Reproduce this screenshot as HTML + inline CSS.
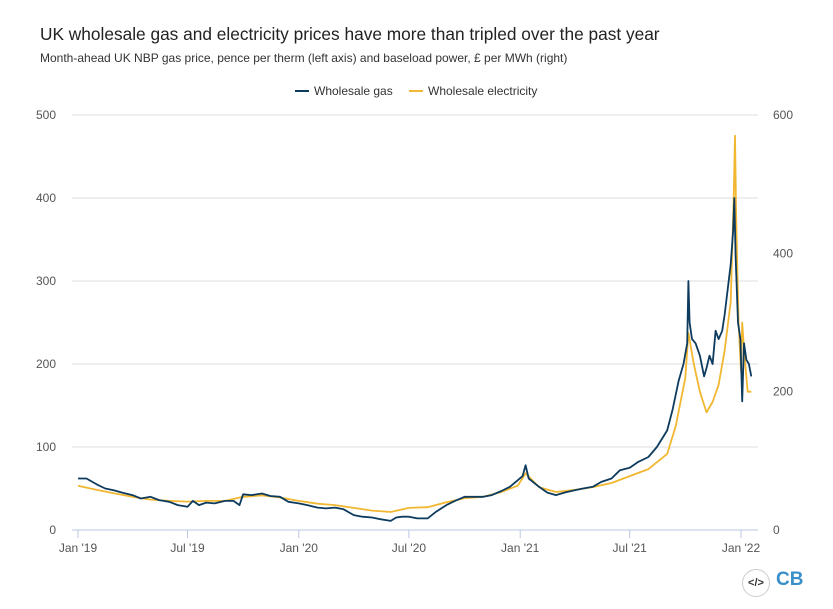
<!DOCTYPE html>
<html><head><meta charset="utf-8"><style>
body{margin:0;background:#fff;font-family:"Liberation Sans",sans-serif;}
#wrap{position:relative;width:833px;height:609px;overflow:hidden}
.t{position:absolute;white-space:nowrap}
</style></head><body>
<div id="wrap">
<div class="t" style="left:40px;top:24px;font-size:17.3px;color:#222">UK wholesale gas and electricity prices have more than tripled over the past year</div>
<div class="t" style="left:40px;top:51px;font-size:12px;color:#333">Month-ahead UK NBP gas price, pence per therm (left axis) and baseload power, £ per MWh (right)</div>
<svg id="chart" width="833" height="609" style="position:absolute;left:0;top:0"></svg>
<div class="t" style="left:742px;top:569px;width:26px;height:26px;border:1px solid #ccc;border-radius:50%;text-align:center;line-height:26px;font-size:11px;font-weight:bold;color:#333">&lt;/&gt;</div>
<div class="t" style="left:776px;top:569px;font-size:19px;font-weight:bold;color:#3a8fc8">CB</div>
</div>
<script>
const gasDates=["2019-01-01","2019-01-15","2019-02-01","2019-02-15","2019-03-01","2019-03-15","2019-04-01","2019-04-15","2019-05-01","2019-05-15","2019-06-01","2019-06-15","2019-07-01","2019-07-10","2019-07-20","2019-08-01","2019-08-15","2019-09-01","2019-09-15","2019-09-25","2019-10-01","2019-10-15","2019-11-01","2019-11-15","2019-12-01","2019-12-15","2020-01-01","2020-01-15","2020-02-01","2020-02-15","2020-03-01","2020-03-15","2020-04-01","2020-04-15","2020-05-01","2020-05-15","2020-06-01","2020-06-10","2020-06-20","2020-07-01","2020-07-15","2020-08-01","2020-08-15","2020-09-01","2020-09-15","2020-10-01","2020-10-15","2020-11-01","2020-11-15","2020-12-01","2020-12-15","2020-12-28","2021-01-05","2021-01-10","2021-01-15","2021-02-01","2021-02-15","2021-03-01","2021-03-15","2021-04-01","2021-04-15","2021-05-01","2021-05-15","2021-06-01","2021-06-15","2021-07-01","2021-07-15","2021-08-01","2021-08-15","2021-09-01","2021-09-10","2021-09-20","2021-09-28","2021-10-04","2021-10-06","2021-10-08","2021-10-12","2021-10-18","2021-10-25","2021-11-01","2021-11-05","2021-11-10","2021-11-15","2021-11-20","2021-11-25","2021-12-01","2021-12-05","2021-12-10","2021-12-15","2021-12-19","2021-12-21","2021-12-23","2021-12-27","2021-12-31","2022-01-03","2022-01-06","2022-01-10","2022-01-14","2022-01-18"];
const gasValues=[62,62,55,50,48,45,42,38,40,36,34,30,28,35,30,33,32,35,35,30,43,42,44,41,40,34,32,30,27,26,27,25,18,16,15,13,11,15,16,16,14,14,22,30,35,40,40,40,42,47,52,60,65,78,62,52,45,42,45,48,50,52,58,62,72,75,82,88,100,120,145,180,200,225,300,250,230,225,210,185,195,210,200,240,230,240,260,290,320,360,400,330,250,230,155,225,205,200,185];
const elecDates=["2019-01-01","2019-02-01","2019-03-01","2019-04-01","2019-05-01","2019-06-01","2019-07-01","2019-08-01","2019-09-01","2019-10-01","2019-11-01","2019-12-01","2020-01-01","2020-02-01","2020-03-01","2020-04-01","2020-05-01","2020-06-01","2020-07-01","2020-08-01","2020-09-01","2020-10-01","2020-11-01","2020-12-01","2020-12-28","2021-01-10","2021-02-01","2021-03-01","2021-04-01","2021-05-01","2021-06-01","2021-07-01","2021-08-01","2021-09-01","2021-09-15","2021-10-01","2021-10-06","2021-10-15","2021-10-25","2021-11-05","2021-11-15","2021-11-25","2021-12-05","2021-12-15","2021-12-20","2021-12-22","2021-12-24","2021-12-28","2022-01-01","2022-01-03","2022-01-07","2022-01-12","2022-01-18"];
const elecValues=[64,58,53,48,44,42,41,42,42,48,50,47,42,38,36,32,28,26,32,33,40,46,48,55,64,82,62,55,58,62,68,78,88,110,150,220,285,240,200,170,185,210,260,330,480,570,450,300,230,300,250,200,200];
const xTickLabels=["Jan '19","Jul '19","Jan '20","Jul '20","Jan '21","Jul '21","Jan '22"];
const xTickDates=["2019-01-01","2019-07-01","2020-01-01","2020-07-01","2021-01-01","2021-07-01","2022-01-01"];
const leftTicks=[0,100,200,300,400,500];
const rightTicks=[0,200,400,600];

const NS="http://www.w3.org/2000/svg";
const svg=document.getElementById('chart');
const X0=78,X1=741,T0=Date.parse("2019-01-01"),T1=Date.parse("2022-01-01");
const PL=72,PR=758,YB=530,YT=115;
function xs(d){return X0+(Date.parse(d)-T0)/(T1-T0)*(X1-X0);}
function yl(v){return YB-v/500*(YB-YT);}
function yr(v){return YB-v/600*(YB-YT);}
function mk(tag,a){const e=document.createElementNS(NS,tag);for(const k in a)e.setAttribute(k,a[k]);svg.appendChild(e);return e;}
leftTicks.forEach(v=>{
 const y=yl(v);
 if(v>0){const g=mk('line',{x1:PL,x2:PR,y1:y,y2:y,stroke:'#dcdcdc','stroke-width':1});
 
 }
 const t=mk('text',{x:56,y:y+4,'text-anchor':'end','font-size':12,fill:'#555','font-family':'Liberation Sans, sans-serif'});t.textContent=v;
 
 
});
rightTicks.forEach(v=>{
 const t=mk('text',{x:773,y:yr(v)+4,'font-size':12,fill:'#555','font-family':'Liberation Sans, sans-serif'});t.textContent=v;
 
 
});
const ax=mk('line',{x1:PL,x2:PR,y1:YB,y2:YB,stroke:'#b8c8e4','stroke-width':1});


xTickDates.forEach((d,i)=>{
 const x=xs(d);
 const tk=mk('line',{x1:x,x2:x,y1:YB,y2:YB+8,stroke:'#b8c8e4'});
 
 
 const t=mk('text',{x:x,y:YB+22,'text-anchor':'middle','font-size':12,fill:'#555','font-family':'Liberation Sans, sans-serif'});t.textContent=xTickLabels[i];
 
 
});
function line(dates,vals,fy,color,name){
 const p=mk('polyline',{points:dates.map((d,i)=>xs(d).toFixed(1)+','+fy(vals[i]).toFixed(1)).join(' '),fill:'none',stroke:color,'stroke-width':1.8,'stroke-linejoin':'round'});
 
 
}
line(elecDates,elecValues,yr,'#f2b731','electricity-line');
line(gasDates,gasValues,yl,'#0d3b5e','gas-line');
[[295,'#0d3b5e','Wholesale gas'],[409,'#f2b731','Wholesale electricity']].forEach(([x,c,l])=>{
 const s=mk('line',{x1:x,x2:x+14,y1:91,y2:91,stroke:c,'stroke-width':2});
 
 
 const t=mk('text',{x:x+19,y:95,'font-size':12,fill:'#333','font-family':'Liberation Sans, sans-serif'});t.textContent=l;
 
 
});
</script>
</body></html>
